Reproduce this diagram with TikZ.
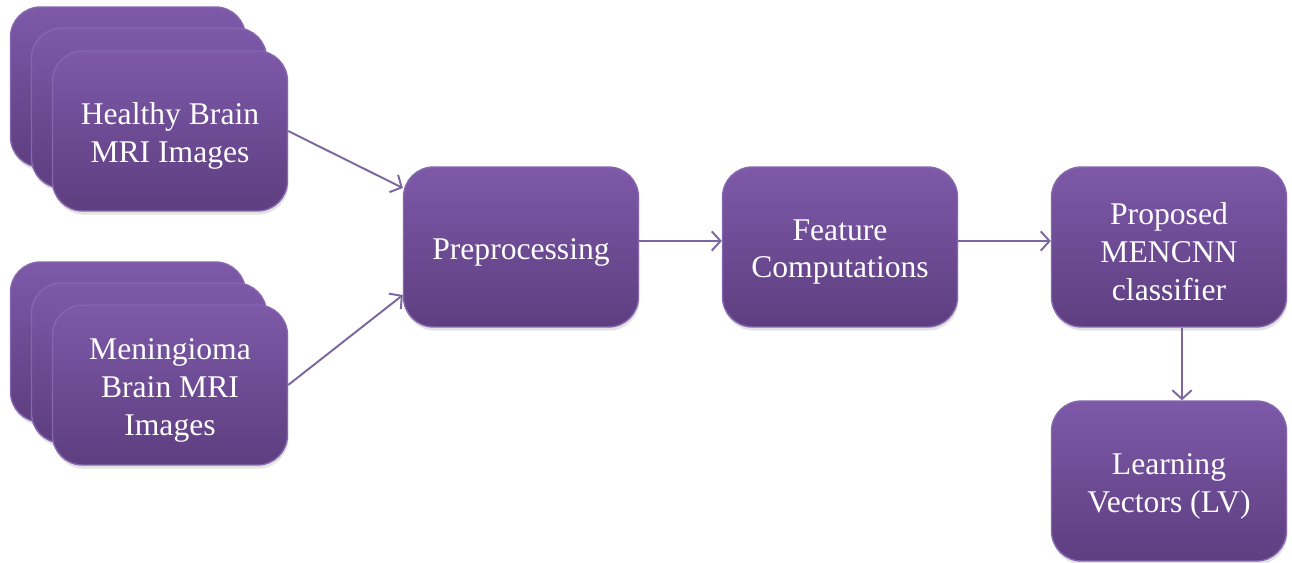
\documentclass[tikz,border=0pt]{standalone}
\usepackage{fontspec}
\setmainfont{Liberation Serif}
\usetikzlibrary{shadows,calc,arrows.meta}
\definecolor{boxtop}{HTML}{7D59A8}
\definecolor{boxbot}{HTML}{5E3E80}
\definecolor{boxedge}{HTML}{8467AE}
\definecolor{arrowc}{HTML}{7B67A0}
\tikzset{
  stagebox/.style={rounded corners=0.6cm, minimum width=4.7cm, minimum height=3.2cm,
    top color=boxtop, bottom color=boxbot, draw=boxedge, line width=0.8pt,
    drop shadow={opacity=0.22, shadow xshift=0.5pt, shadow yshift=-2pt}, inner sep=0pt},
  boxtext/.style={text=white, align=center, inner sep=0pt, yshift=-0.1cm,
    font=\fontsize{18}{21.6}\selectfont},
  flow/.style={draw=arrowc, line width=1.1pt, -{Straight Barb[length=5pt,width=11pt,line width=1.1pt]}}
}
\begin{document}
\begin{tikzpicture}[x=0.02cm,y=-0.02cm]
\fill[white] (0,0) rectangle (1292,562);
\useasboundingbox (0,0) rectangle (1292,562);
% top stack
\node[stagebox] (hb3) at (128,87) {};
\node[stagebox] (hb2) at (149,108) {};
\node[stagebox, label={[boxtext]center:Healthy Brain\\MRI Images}] (hb) at (170,131) {};
% bottom stack
\node[stagebox] (mb3) at (128,342) {};
\node[stagebox] (mb2) at (149,363) {};
\node[stagebox, label={[boxtext]center:Meningioma\\Brain MRI\\Images}] (mb) at (170,385) {};
% pipeline
\node[stagebox, label={[boxtext]center:Preprocessing}] (prep) at (521,247) {};
\node[stagebox, label={[boxtext]center:Feature\\Computations}] (feat) at (840,247) {};
\node[stagebox, label={[boxtext]center:Proposed\\MENCNN\\classifier}] (prop) at (1169,247) {};
\node[stagebox, label={[boxtext]center:Learning\\Vectors (LV)}] (lv) at (1169,481) {};
% connectors
\draw[flow] (hb.east) -- ($(prep.west)+(0,-59)$);
\draw[flow] (mb.east) -- ($(prep.west)+(0,48)$);
\draw[flow] ($(prep.east)+(0,-6)$) -- ($(feat.west)+(0,-6)$);
\draw[flow] ($(feat.east)+(0,-6)$) -- ($(prop.west)+(0,-6)$);
\draw[flow] ($(prop.south)+(13,0)$) -- ($(lv.north)+(13,0)$);
\end{tikzpicture}
\end{document}
